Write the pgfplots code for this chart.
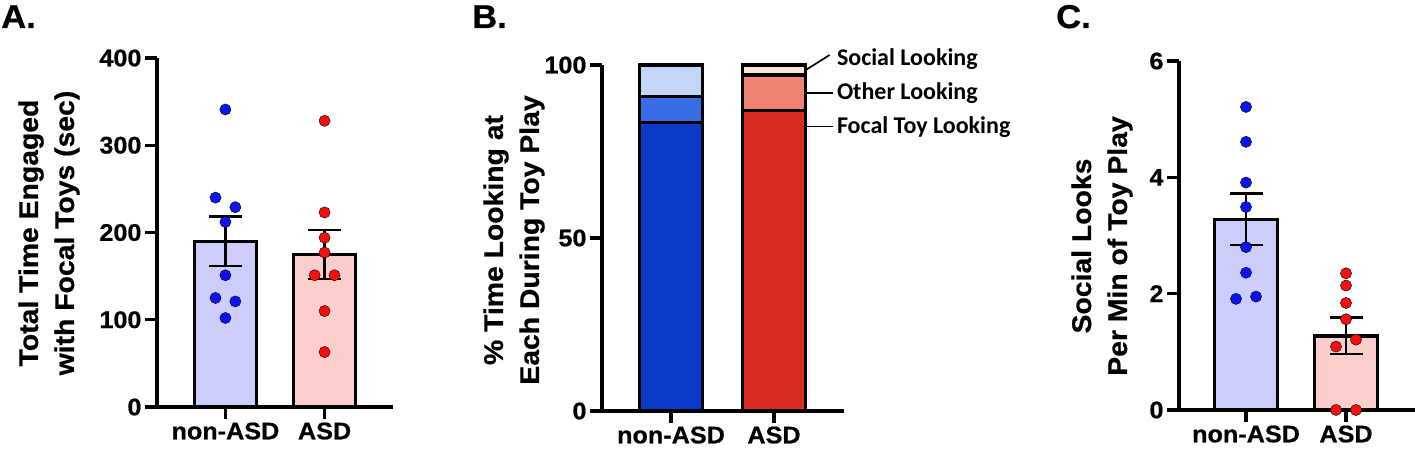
\documentclass[border=0pt]{standalone}
\usepackage{fontspec}
\setmainfont{Liberation Sans}
\newfontfamily\arial{Liberation Sans}[FakeStretch=1.05, FakeBold=0.6]
\newfontfamily\calibri{Carlito}
\usepackage{pgfplots}
\pgfplotsset{compat=1.18}

\definecolor{lav}{RGB}{204,205,250}
\definecolor{pink}{RGB}{252,205,205}
\definecolor{dotblue}{RGB}{10,20,240}
\definecolor{dotred}{RGB}{245,15,15}
\definecolor{bdark}{RGB}{12,58,200}
\definecolor{bmid}{RGB}{58,108,232}
\definecolor{blight}{RGB}{197,213,248}
\definecolor{rdark}{RGB}{217,45,35}
\definecolor{rmid}{RGB}{239,130,114}
\definecolor{rlight}{RGB}{253,230,222}

\pgfplotsset{
  prism/.style={
    scale only axis, anchor=south west, clip=false,
    axis lines=left, axis line style={line width=3.3pt,-},
    tick align=outside, major tick length=12pt,
    tick style={line width=3.3pt,black},
    xtick={0,1}, xticklabels={non-ASD,ASD},
    ymin=0,
    tick label style={font=\arial\bfseries\fontsize{24}{28}\selectfont},
    /pgf/number format/assume math mode=true,
  },
  mybar/.style={ybar, bar width=0.63, bar shift=0pt, draw=black, line width=3.3pt},
  % whisker from mean-SEM to mean+SEM, with caps at both ends
  sem/.style={black, line width=2.3pt, mark=-, mark size=16.5pt, mark options={solid, line width=2.3pt}},
  dots/.style={only marks, mark=*, mark size=5.6pt, mark options={draw=none,fill=#1}},
}

\begin{document}
\begin{tikzpicture}
\useasboundingbox (0,0) rectangle (1415pt,456pt);

% panel letters
\node[anchor=base west, inner sep=0pt, font=\arial\bfseries\fontsize{33}{33}\selectfont] at (1pt,428pt) {A.};
\node[anchor=base west, inner sep=0pt, font=\arial\bfseries\fontsize{33}{33}\selectfont] at (472pt,428pt) {B.};
\node[anchor=base west, inner sep=0pt, font=\arial\bfseries\fontsize{33}{33}\selectfont] at (1056pt,428pt) {C.};

% y labels
\node[rotate=90, align=center, font=\arial\bfseries\fontsize{27}{36}\selectfont] at (49pt,223pt) {Total Time Engaged\\with Focal Toys (sec)};
\node[rotate=90, align=center, font=\arial\bfseries\fontsize{27}{36}\selectfont] at (514pt,216pt) {\% Time Looking at\\Each During Toy Play};
\node[rotate=90, align=center, font=\arial\bfseries\fontsize{27}{36}\selectfont] at (1102pt,210pt) {Social Looks\\Per Min of Toy Play};

% A
\begin{axis}[prism, at={(157pt,49pt)}, width=236pt, height=349pt,
  xmin=-0.69, xmax=1.69, ymax=400, ytick={0,100,200,300,400}]
  \addplot[mybar, fill=lav] coordinates {(0,190)};
  \addplot[mybar, fill=pink] coordinates {(1,175)};
  \addplot[sem] coordinates {(0,161.5) (0,218.5)};
  \addplot[sem] coordinates {(1,147) (1,203)};
  \addplot[dots=dotblue] coordinates {
    (0,341) (-0.1,240) (0.1,229) (0,212) (0,151) (-0.1,125) (0.1,121) (0,102)};
  \addplot[dots=dotred] coordinates {
    (1,328) (1,223) (1,194) (1,177) (0.9,151) (1.1,151) (1,110) (1,63)};
\end{axis}

% B
\begin{axis}[prism, at={(602pt,45pt)}, width=242pt, height=346pt,
  xmin=-0.67, xmax=1.68, ymax=100, ytick={0,50,100},
  ybar stacked, bar width=0.61]
  \addplot[fill=bdark, draw=black, line width=3.3pt] coordinates {(0,83.4) (1,0)};
  \addplot[fill=rdark, draw=black, line width=3.3pt] coordinates {(0,0) (1,86.8)};
  \addplot[fill=bmid, draw=black, line width=3.3pt] coordinates {(0,7.4) (1,0)};
  \addplot[fill=rmid, draw=black, line width=3.3pt] coordinates {(0,0) (1,10.3)};
  \addplot[fill=blight, draw=black, line width=3.3pt] coordinates {(0,9.2) (1,0)};
  \addplot[fill=rlight, draw=black, line width=3.3pt] coordinates {(0,0) (1,2.9)};
  \draw[line width=1.7pt] (axis cs:1.28,98.0) -- (axis cs:1.54,102.9);
  \draw[line width=1.7pt] (axis cs:1.27,92.0) -- (axis cs:1.57,92.0);
  \draw[line width=1.7pt] (axis cs:1.27,82.2) -- (axis cs:1.57,82.2);
  \node[anchor=base west, inner sep=0pt, font=\calibri\bfseries\fontsize{24}{28}\selectfont] at (axis cs:1.61,100.0) {Social Looking};
  \node[anchor=base west, inner sep=0pt, font=\calibri\bfseries\fontsize{24}{28}\selectfont] at (axis cs:1.61,89.9) {Other Looking};
  \node[anchor=base west, inner sep=0pt, font=\calibri\bfseries\fontsize{24}{28}\selectfont] at (axis cs:1.61,80.1) {Focal Toy Looking};
\end{axis}

% C
\begin{axis}[prism, at={(1179pt,46pt)}, width=236pt, height=349pt,
  xmin=-0.67, xmax=1.69, ymax=6, ytick={0,2,4,6}]
  \addplot[mybar, fill=lav] coordinates {(0,3.28)};
  \addplot[mybar, fill=pink] coordinates {(1,1.27)};
  \addplot[sem] coordinates {(0,2.84) (0,3.72)};
  \addplot[sem] coordinates {(1,0.96) (1,1.59)};
  \addplot[dots=dotblue] coordinates {
    (0,5.21) (0,4.61) (0,3.91) (0,3.49) (0,2.80) (0,2.36) (-0.1,1.91) (0.1,1.95)};
  \addplot[dots=dotred] coordinates {
    (1,2.35) (1,2.14) (1,1.84) (1,1.56) (1.1,1.21) (0.9,1.09) (0.9,0) (1.1,0)};
\end{axis}
\end{tikzpicture}
\end{document}
